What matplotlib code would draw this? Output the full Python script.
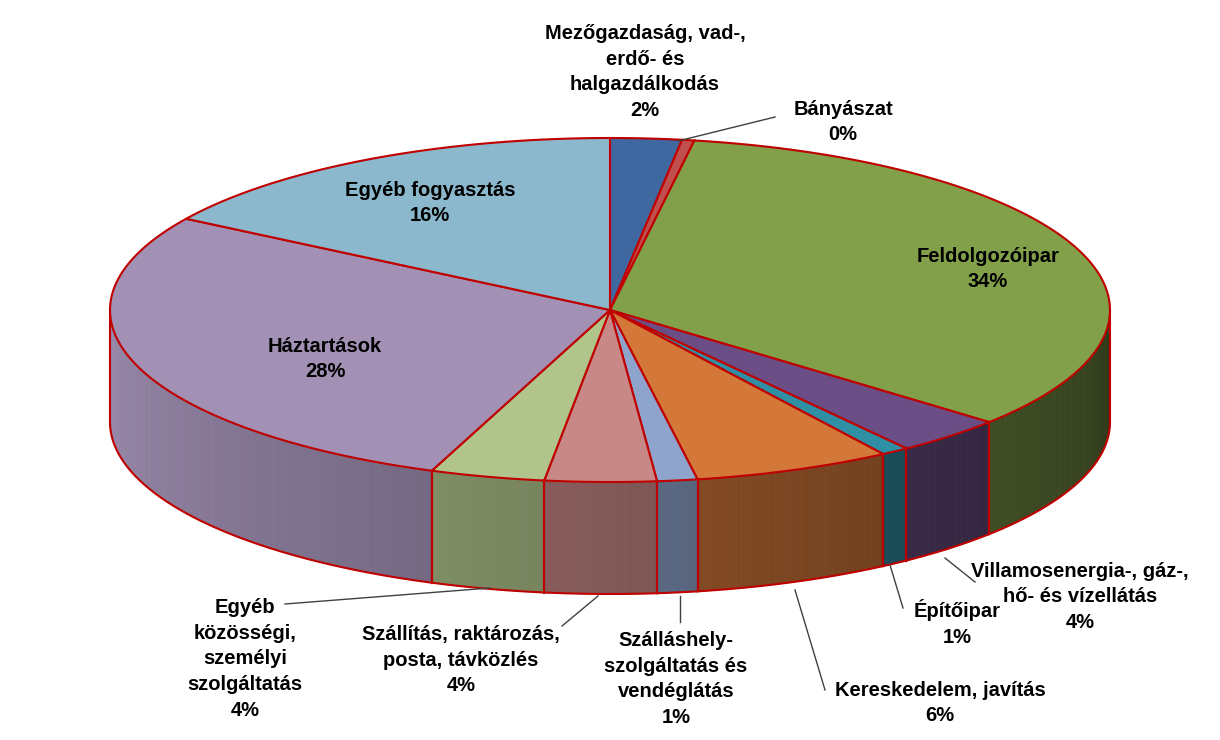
import numpy as np
import matplotlib
matplotlib.use("Agg")
import matplotlib.pyplot as plt
from matplotlib.patches import Polygon
from matplotlib.colors import to_rgb

categories = ["Mezőgazdaság, vad-,\nerdő- és\nhalgazdálkodás", "Bányászat", "Feldolgozóipar",
              "Villamosenergia-, gáz-,\nhő- és vízellátás", "Építőipar", "Kereskedelem, javítás",
              "Szálláshely-\nszolgáltatás és\nvendéglátás", "Szállítás, raktározás,\nposta, távközlés",
              "Egyéb\nközösségi,\nszemélyi\nszolgáltatás", "Háztartások", "Egyéb fogyasztás"]
values = [2.3, 0.4, 33.6, 3.6, 0.9, 6.4, 1.3, 3.6, 3.7, 28.1, 16.1]
pct_labels = ["2%", "0%", "34%", "4%", "1%", "6%", "1%", "4%", "4%", "28%", "16%"]
colors = ["#4068A0", "#C0504D", "#82A04A", "#6B4E85", "#2E8FA5", "#D4783A",
          "#8FA4CC", "#C88888", "#B0C48C", "#A291B5", "#8BB8CC"]

cx, cy, rx, ry, depth = 610, 310, 500, 172, 112
edge = "#C00000"

fig = plt.figure(figsize=(12.2, 7.4), dpi=100)
ax = fig.add_axes([0, 0, 1, 1])
ax.set_xlim(0, 1220); ax.set_ylim(740, 0); ax.axis("off")

fr = np.array(values) / sum(values)
ends = 90 - 360 * np.cumsum(fr)
starts = np.concatenate([[90], ends[:-1]])

def pt(t, dy=0):
    r = np.radians(t)
    return cx + rx * np.cos(r), cy - ry * np.sin(r) + dy

for s, e, c in zip(starts, ends, colors):
    base = np.array(to_rgb(c))
    ts = np.linspace(s, e, max(3, int(abs(s - e) * 2)))
    for a, b in zip(ts[:-1], ts[1:]):
        m = ((a + b) / 2) % 360
        if 180 <= m <= 360:
            f = 0.95 - 0.6 * (m - 180) / 180
            col = np.clip(base * f, 0, 1)
            p1, p2 = pt(a), pt(b)
            ax.add_patch(Polygon([p1, p2, (p2[0], p2[1] + depth), (p1[0], p1[1] + depth)],
                                 closed=True, fc=col, ec=col, lw=0.6))
    wall = [t for t in np.linspace(s, e, 200) if 180 <= t % 360 <= 360]
    if wall:
        xs = [pt(t, depth)[0] for t in wall]; ys = [pt(t, depth)[1] for t in wall]
        ax.plot(xs, ys, color=edge, lw=1.5)
        for t in (s, e):
            if 180 <= t % 360 <= 360:
                x0, y0 = pt(t)
                ax.plot([x0, x0], [y0, y0 + depth], color=edge, lw=1.5)
for t in (180, 360):
    x0, y0 = pt(t)
    ax.plot([x0, x0], [y0, y0 + depth], color=edge, lw=1.5)

for s, e, c in zip(starts, ends, colors):
    ts = np.linspace(s, e, 100)
    poly = [(cx, cy)] + [pt(t) for t in ts]
    ax.add_patch(Polygon(poly, closed=True, fc=c, ec=edge, lw=1.5))

font = dict(family="Liberation Sans", fontweight="bold", fontsize=14.5, ha="center", va="center", linespacing=1.45)
lab_pos = [(645, 72), (843, 122), (988, 269), (1080, 597), (957, 623), (940, 703),
           (676, 679), (461, 660), (245, 659), (325, 359), (430, 203)]
for cat, p, (x, y) in zip(categories, pct_labels, lab_pos):
    ax.text(x, y, cat + "\n" + p, **font)

leaders = [None, ((678, 141), (775, 117)), None, ((945, 558), (975, 582)),
           ((890, 565), (903, 608)), ((795, 590), (825, 690)), ((680, 596), (680, 622)),
           ((598, 596), (562, 626)), ((490, 588), (285, 604)), None, None]
for l in leaders:
    if l:
        ax.plot([l[0][0], l[1][0]], [l[0][1], l[1][1]], color="#404040", lw=1)

fig.savefig("out.png", dpi=100)
